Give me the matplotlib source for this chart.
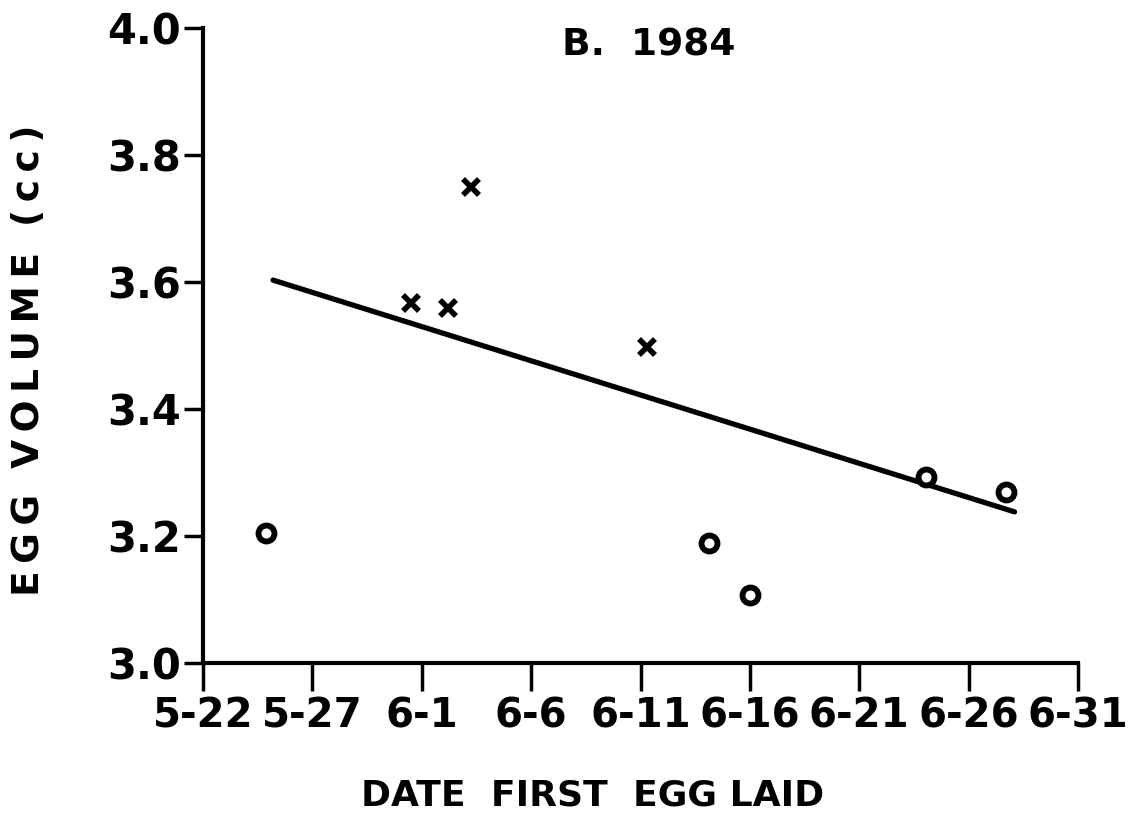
import matplotlib
matplotlib.use("Agg")
import matplotlib.pyplot as plt

# Days after 5-22
tick_days = [0, 5, 10, 15, 20, 25, 30, 35, 40]
tick_labels = ["5-22", "5-27", "6-1", "6-6", "6-11", "6-16", "6-21", "6-26", "6-31"]
y_ticks = [3.0, 3.2, 3.4, 3.6, 3.8, 4.0]
y_tick_labels = ["3.0", "3.2", "3.4", "3.6", "3.8", "4.0"]

cross_days = [9.5, 11.2, 12.25, 20.3]
cross_vol = [3.567, 3.559, 3.750, 3.498]

circle_days = [2.9, 23.15, 25.0, 33.05, 36.7]
circle_vol = [3.204, 3.189, 3.107, 3.293, 3.269]

line_days = [3.2, 37.1]
line_vol = [3.603, 3.238]

plt.rcParams['font.family'] = ['DejaVu Sans']
plt.rcParams['font.weight'] = 'bold'

fig = plt.figure(figsize=(11.35, 8.3), dpi=100)
ax = fig.add_axes([203/1135, 1-663/830, 875/1135, 635/830])

ax.plot(line_days, line_vol, color='black', lw=3.8, solid_capstyle='round')
ax.plot(cross_days, cross_vol, linestyle='none', marker='x', ms=12, mew=4, color='black')
ax.plot(circle_days, circle_vol, linestyle='none', marker='o', ms=11.5, mew=4.2,
        mfc='white', mec='black')

ax.set_xlim(0, 40)
ax.set_ylim(3.0, 4.0)
ax.set_xticks(tick_days)
ax.set_xticklabels(tick_labels)
ax.set_yticks(y_ticks)
ax.set_yticklabels(y_tick_labels)

for s in ['top', 'right']:
    ax.spines[s].set_visible(False)
for s in ['left', 'bottom']:
    ax.spines[s].set_linewidth(3)
ax.tick_params(axis='x', direction='out', length=20, width=2.5, pad=4, labelsize=29)
ax.tick_params(axis='y', direction='out', length=14, width=2.5, pad=2, labelsize=30)
for lab in ax.get_xticklabels() + ax.get_yticklabels():
    lab.set_fontweight('bold')

ax.text(0.509, 0.972, "B.  1984", transform=ax.transAxes, ha='center', va='center',
        fontsize=27, fontweight='bold')

sp = "\u2009"
xlabel = "DATE  FIRST  EGG LAID"
fig.text(593/1135, 1-795/830, xlabel, ha='center', va='center', fontsize=26, fontweight='bold')
ylabel = "  ".join(sp.join(w) for w in ["EGG", "VOLUME", "(cc)"])
fig.text(29/1135, 1-360/830, ylabel, rotation=90, ha='center', va='center',
         fontsize=27, fontweight='bold')

fig.savefig("out.png", dpi=100)
